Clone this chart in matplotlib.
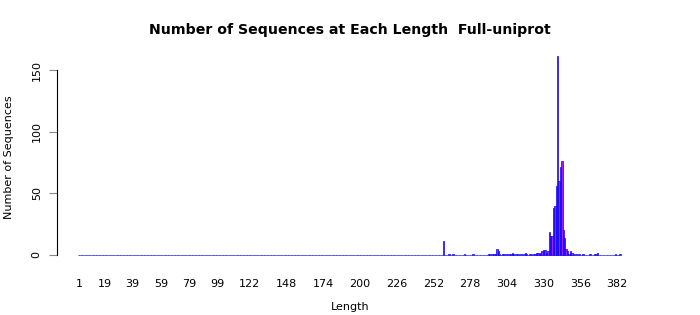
import numpy as np
import matplotlib
matplotlib.use("Agg")
import matplotlib.pyplot as plt

# lengths that have at least one sequence, and how many
lengths = [259, 263, 266, 274, 280, 291, 292, 294, 295, 296, 297, 298, 299,
           301, 302, 304, 306, 307, 308, 309, 311, 312, 314, 316, 317, 318,
           320, 321, 323, 324, 325, 326, 327, 328, 329, 330, 331, 332, 333,
           334, 335, 336, 337, 338, 339, 340, 341, 342, 343, 344, 345, 346,
           347, 348, 349, 350, 351, 353, 355, 358, 363, 366, 367, 368, 381, 384]
counts = [11, 1, 1, 1, 1, 1, 1, 1, 1, 1, 5, 3, 1,
          1, 1, 1, 1, 1, 2, 1, 1, 1, 1, 1, 2, 1,
          1, 1, 1, 1, 2, 2, 1, 2, 3, 4, 4, 2, 3,
          19, 15, 15, 38, 40, 56, 161, 60, 71, 76, 20, 14, 5,
          3, 1, 3, 2, 1, 1, 1, 1, 1, 1, 1, 2, 1, 1]
xtick_labels = [1, 19, 39, 59, 79, 99, 122, 148, 174, 200, 226, 252, 278,
                304, 330, 356, 382]
yticks = [0, 50, 100, 150]

# every length from 1 up, empty ones drawn as flat bars (the baseline)
all_len = np.arange(1, max(lengths) + 1)
all_cnt = np.zeros(len(all_len))
all_cnt[np.array(lengths) - 1] = counts

fig = plt.figure(figsize=(7, 3.15), dpi=100)
ax = fig.add_axes([57/700, 53/315, 583/700, 210/315])

ax.bar(all_len, all_cnt, width=1.0, color="#A020F0", edgecolor="blue",
       linewidth=0.5)

ax.set_xlim(-14.6, 398.3)
ax.set_ylim(-5.7, 164.6)

for s in ["top", "right", "bottom"]:
    ax.spines[s].set_visible(False)
ax.spines["left"].set_bounds(0, 150)
ax.spines["left"].set_linewidth(0.8)

ax.set_yticks(yticks)
ax.set_yticklabels([str(v) for v in yticks], rotation=90, va="center",
                   fontsize=8)
ax.tick_params(axis="y", length=6, width=0.8, color="#888888", pad=5)

ax.set_xticks(xtick_labels)
ax.set_xticklabels([str(v) for v in xtick_labels], fontsize=8)
ax.tick_params(axis="x", length=0, pad=12)

ax.set_xlabel("Length", fontsize=8, va="center")
ax.xaxis.set_label_coords(0.503, -0.214)
ax.set_ylabel("Number of Sequences", fontsize=8, va="center")
ax.yaxis.set_label_coords(-0.082, 0.5)

fig.text(0.5, 1 - 30/315, "Number of Sequences at Each Length  Full-uniprot",
         ha="center", va="center", fontsize=10.2, fontweight="bold")

plt.savefig("out.png", dpi=100)
